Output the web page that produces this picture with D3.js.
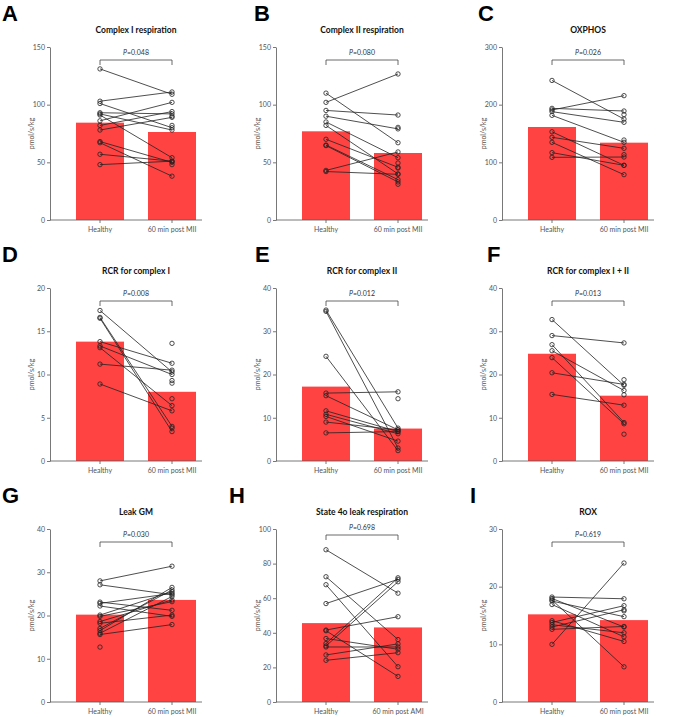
<!DOCTYPE html>
<html>
<head>
<meta charset="utf-8">
<script src="https://cdn.jsdelivr.net/npm/d3@7"></script>
<style>
  body { margin: 0; background: #fff; }
  svg { display: block; }
  text { font-family: Lato, "Open Sans", sans-serif; }
</style>
</head>
<body>
<div class="vis"></div>
<script>
(function() {
  'use strict';

  var letters = ['A', 'B', 'C', 'D', 'E', 'F', 'G', 'H', 'I'];
  var titles = ['Complex I respiration', 'Complex II respiration', 'OXPHOS',
    'RCR for complex I', 'RCR for complex II', 'RCR for complex I + II',
    'Leak GM', 'State 4o leak respiration', 'ROX'];
  var groups = ['Healthy', '60 min post MII'];
  var groupsAMI = ['Healthy', '60 min post AMI'];
  var pValues = ['0.048', '0.080', '0.026', '0.008', '0.012', '0.013', '0.030', '0.698', '0.619'];
  var yMax = [150, 150, 300, 20, 40, 40, 40, 100, 30];
  var yStep = [50, 50, 100, 5, 10, 10, 10, 20, 10];
  var barMeans = [
    [84.4, 76.3], [76.9, 58.1], [161.3, 134.1],
    [13.8, 8.0], [17.2, 7.5], [24.8, 15.1],
    [20.2, 23.6], [45.6, 43.1], [15.2, 14.2]
  ];

  // paired values per subject, null where one side has no partner
  var healthy = [
    [131, 103, 101, 93, 92, 91, 86, 82, 78, 68, 67, 57, 48, null, null, null],
    [110, 102, 95, 90, 85, 82, 70, 65, 64.5, 43, 42, null, null, null, null],
    [242, 193.6, 190.8, 187.9, 181.5, 153, 143.4, 134.7, 116.8, 108.7, null, null, null],
    [17.4, 16.6, 16.5, 13.8, 13.3, 13.1, 11.2, 8.9, null, null, null, null, null],
    [34.9, 34.6, 24.2, 15.7, 15.1, 11.6, 10.8, 10.3, 9.0, 6.5, null],
    [32.7, 29.0, 26.9, 25.5, 23.9, 20.4, 15.4, null, null, null],
    [28.0, 27.1, 23.1, 22.8, 22.2, 20.1, 19.8, 18.6, 18.2, 17.0, 16.5, 15.9, 15.6, 12.7],
    [88.0, 72.4, 67.8, 56.9, 41.6, 41.2, 36.7, 33.8, 32.4, 31.8, 27.2, 24.1],
    [18.2, 17.95, 17.7, 17.5, 16.9, 14.1, 13.8, 13.4, 13.0, 12.6, 10.0, null]
  ];
  var post = [
    [109, 111, 80, 92, 78, 54, 102, 94, 89, 50, 38, 51, 51, 90, 82, 48],
    [67, 126.6, 91, 79, 54, 40, 45.7, 35, 33, 59, 39.6, 80.3, 49.4, 45, 31],
    [175, 189, 215.6, 169.4, 134.7, 94.8, 124.3, 78.6, 94.8, 109.2, 182.7, 138.7, 113.3],
    [10.3, 4.0, 3.4, 11.3, 10.0, 6.4, 10.5, 5.8, 13.6, 9.3, 9.0, 7.2, 3.8],
    [7.6, 3.0, 2.4, 16.0, 7.2, 6.8, 6.3, 4.6, 7.2, 6.8, 14.4],
    [17.5, 27.3, 8.9, 16.3, 8.6, 17.7, 12.9, 18.8, 15.3, 6.2],
    [31.4, 24.8, 21.2, 25.1, 19.8, 25.5, 23.2, 23.6, 20.1, 25.9, 26.5, 24.4, 17.9, null],
    [62.9, 36.1, 20.4, 70.9, 49.3, 14.8, 30.5, 71.8, 69.5, 31.8, 33.6, 28.5],
    [17.9, 13.0, 6.1, 14.8, 11.3, 10.5, 16.7, 12.0, 16.0, 13.1, 24.1, 15.8]
  ];

  // layout inside each panel
  var letterX = [2, 254, 478, 2, 255, 487, 2, 229, 470];
  var panelW = 226, rowH = 241;
  var axisX = 50, axisEnd = 202, plotTop = 47, plotBottom = 220;
  var red = '#ff4343', ink = '#222';

  var svg = d3.select('.vis').append('svg')
    .attr('width', 678)
    .attr('height', 717);

  letters.forEach(function(letter, i) {
    var col = i % 3, row = Math.floor(i / 3);
    var g = svg.append('g')
      .attr('transform', 'translate(' + (col * panelW) + ',' + (row * rowH) + ')');
    var cats = i === 7 ? groupsAMI : groups;

    var x = d3.scaleBand().domain(cats).range([76, 196]).paddingInner(1 / 3);
    var y = d3.scaleLinear().domain([0, yMax[i]]).range([plotBottom, plotTop]);
    var cx = function(k) { return x(cats[k]) + x.bandwidth() / 2; };

    svg.append('text')
      .attr('x', letterX[i])
      .attr('y', row * rowH + 21)
      .style('font-family', '"Liberation Sans", Arial, sans-serif')
      .style('font-weight', 'bold')
      .style('font-size', '22px')
      .text(letter);

    g.append('text')
      .attr('x', (axisX + axisEnd) / 2 + 10)
      .attr('y', 33)
      .attr('text-anchor', 'middle')
      .style('font-weight', 'bold')
      .style('font-size', '8.5px')
      .attr('fill', '#111')
      .text(titles[i]);

    // bars
    g.selectAll('.bar')
      .data(barMeans[i])
      .enter().append('rect')
        .attr('class', 'bar')
        .attr('x', function(d, k) { return x(cats[k]); })
        .attr('width', x.bandwidth())
        .attr('y', function(d) { return y(d); })
        .attr('height', function(d) { return plotBottom - y(d); })
        .attr('fill', red);

    // axes
    var yAxis = g.append('g')
      .attr('transform', 'translate(' + axisX + ',0)')
      .call(d3.axisLeft(y).tickValues(d3.range(0, yMax[i] + yStep[i] / 2, yStep[i]))
        .tickSize(3).tickSizeOuter(0).tickPadding(2));
    var xAxis = g.append('g')
      .attr('transform', 'translate(0,' + plotBottom + ')')
      .call(d3.axisBottom(x).tickSize(3).tickPadding(4));
    xAxis.select('.domain').remove();
    g.append('line')
      .attr('x1', axisX).attr('x2', axisEnd)
      .attr('y1', plotBottom).attr('y2', plotBottom)
      .attr('stroke', '#555').attr('stroke-width', 0.8);
    [yAxis, xAxis].forEach(function(a) {
      a.selectAll('path, line').attr('stroke', '#555').attr('stroke-width', 0.8);
      a.selectAll('text').attr('fill', '#555').style('font-size', '7px')
        .style('font-family', 'Lato, sans-serif');
    });

    g.append('text')
      .attr('transform', 'translate(34,' + ((plotTop + plotBottom) / 2) + ') rotate(-90)')
      .attr('text-anchor', 'middle')
      .attr('fill', '#555')
      .style('font-size', '7px')
      .text('pmol/s/kg');

    // paired lines
    var pairs = healthy[i].map(function(h, k) { return [h, post[i][k]]; });
    g.selectAll('.pair')
      .data(pairs.filter(function(p) { return p[0] != null && p[1] != null; }))
      .enter().append('line')
        .attr('class', 'pair')
        .attr('x1', cx(0)).attr('x2', cx(1))
        .attr('y1', function(p) { return y(p[0]); })
        .attr('y2', function(p) { return y(p[1]); })
        .attr('stroke', ink).attr('stroke-width', 0.8);

    [healthy[i], post[i]].forEach(function(vals, k) {
      g.selectAll('.pt' + k)
        .data(vals.filter(function(v) { return v != null; }))
        .enter().append('circle')
          .attr('class', 'pt' + k)
          .attr('cx', cx(k))
          .attr('cy', function(d) { return y(d); })
          .attr('r', 2.2)
          .attr('fill', 'none')
          .attr('stroke', ink)
          .attr('stroke-width', 0.8);
    });

    // significance bracket
    var by = i === 7 ? 53 : 60;
    g.append('path')
      .attr('d', 'M' + cx(0) + ',' + (by + 5) + 'V' + by + 'H' + cx(1) + 'V' + (by + 5))
      .attr('fill', 'none').attr('stroke', '#444').attr('stroke-width', 0.8);
    var pt = g.append('text')
      .attr('x', (cx(0) + cx(1)) / 2)
      .attr('y', by - 5)
      .attr('text-anchor', 'middle')
      .attr('fill', '#333')
      .style('font-size', '7px');
    pt.append('tspan').style('font-style', 'italic').text('P');
    pt.append('tspan').text('=' + pValues[i]);
  });

}());
</script>
</body>
</html>
